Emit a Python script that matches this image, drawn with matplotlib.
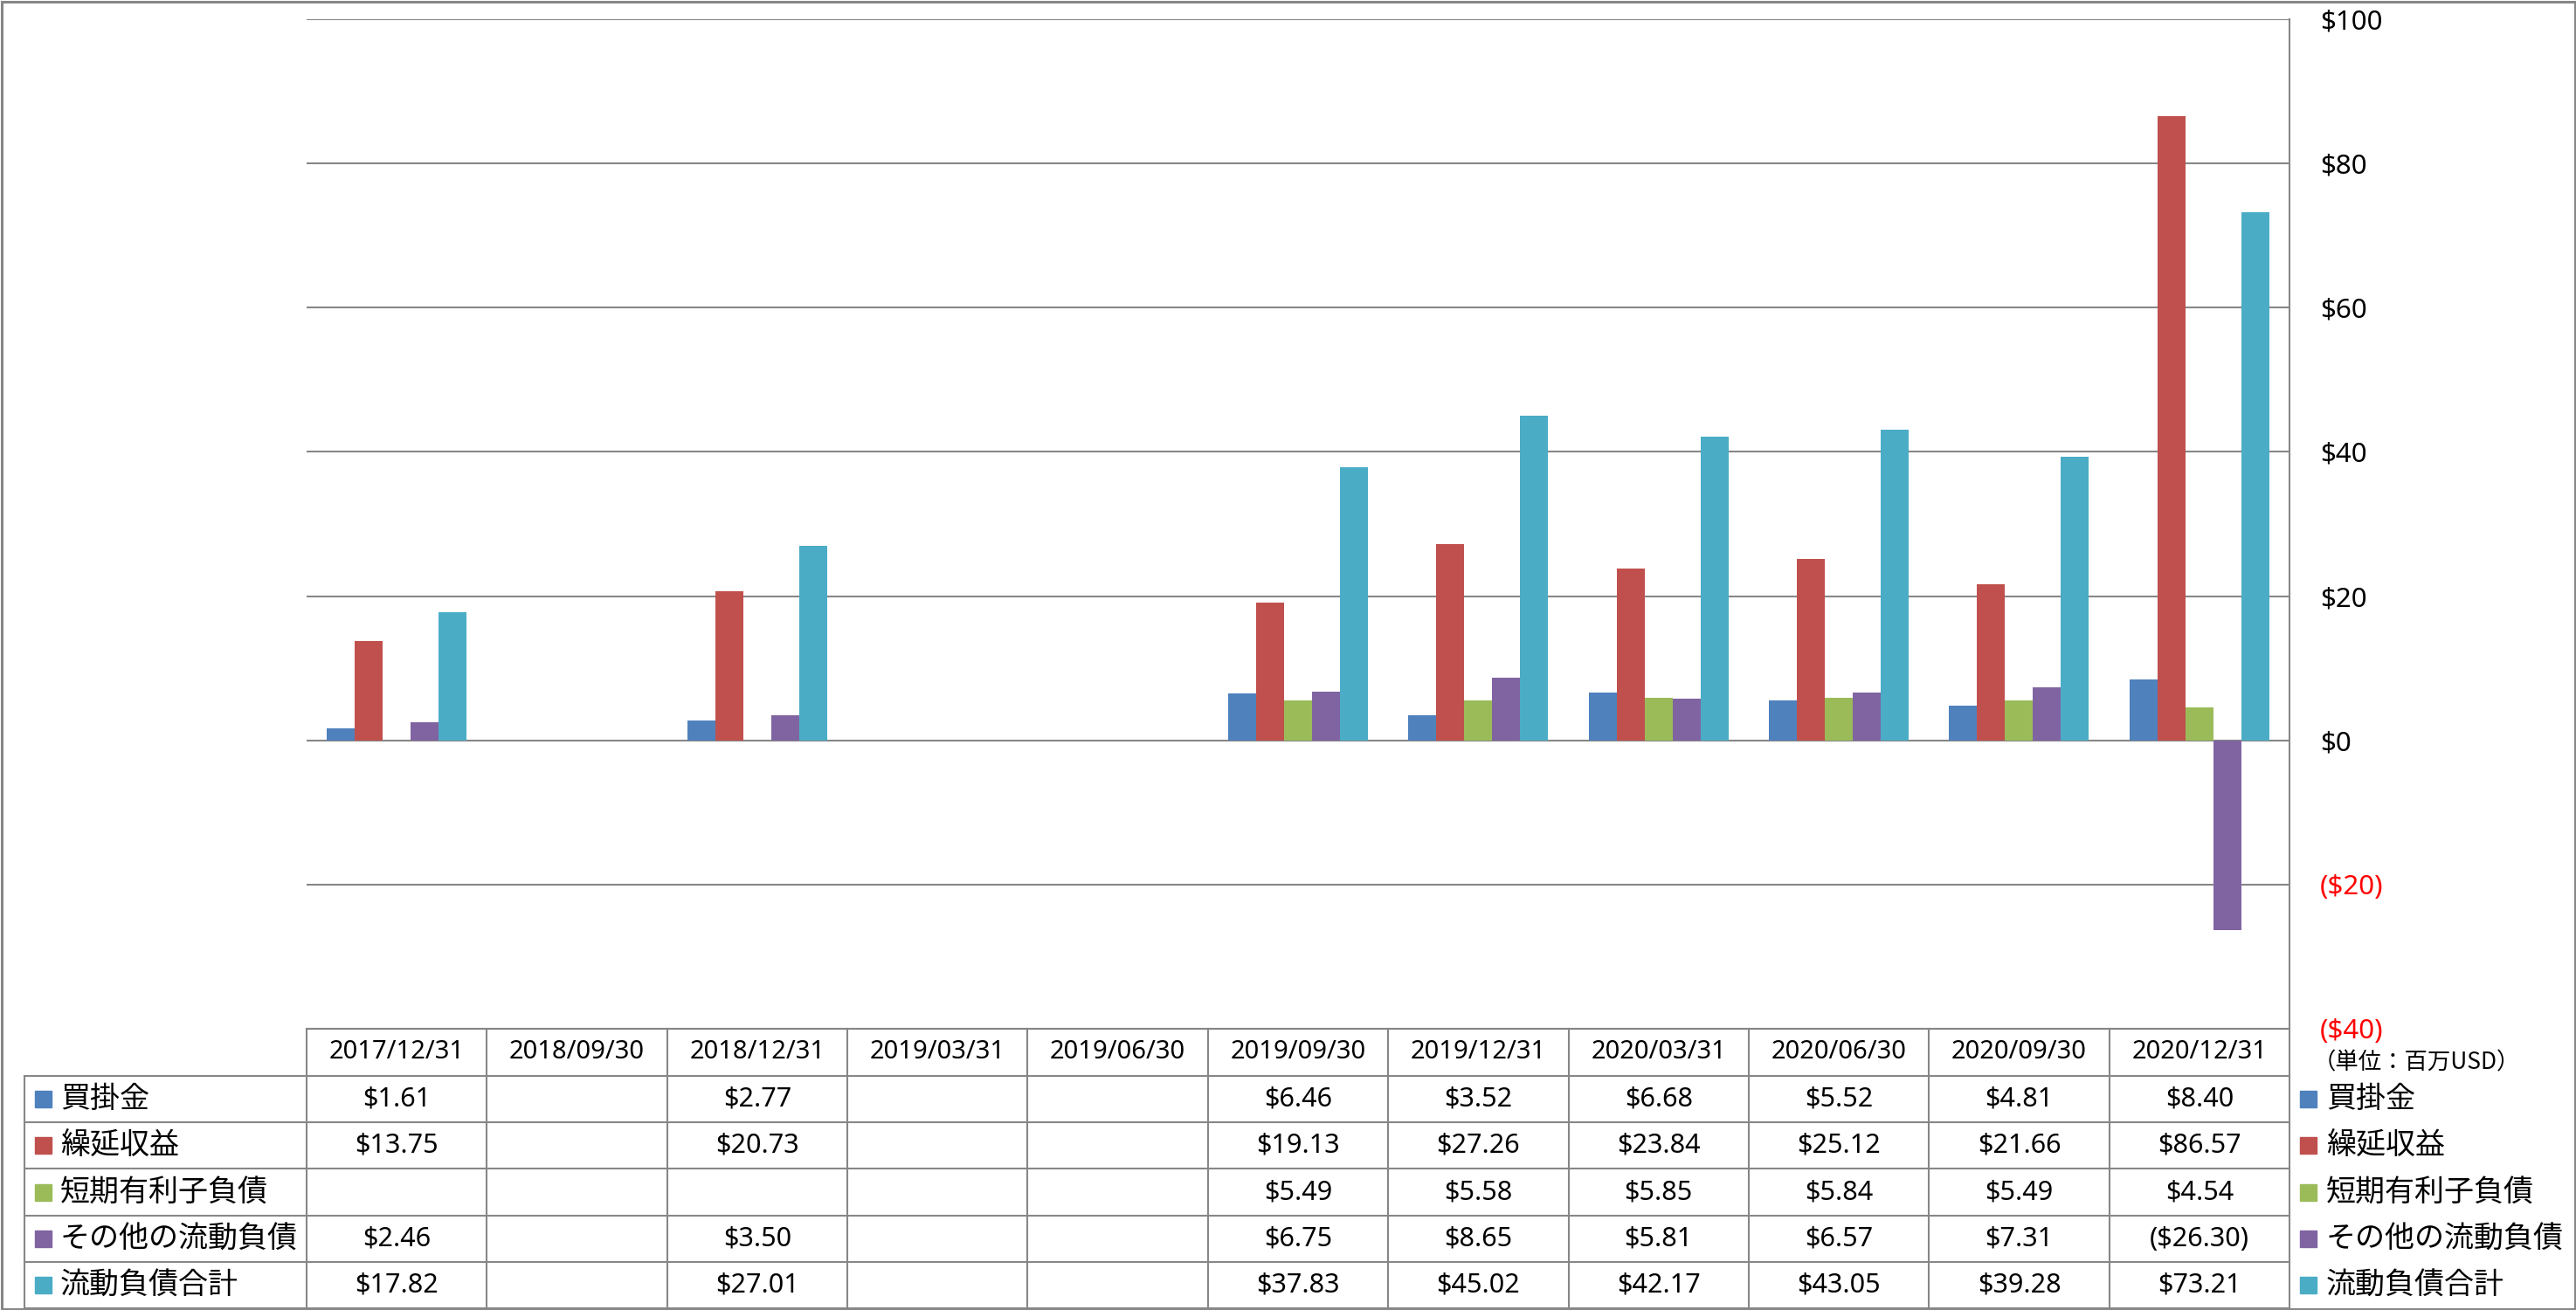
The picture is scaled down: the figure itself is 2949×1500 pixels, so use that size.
import matplotlib
matplotlib.use("Agg")
import matplotlib.pyplot as plt
from matplotlib.patches import Rectangle
from matplotlib.lines import Line2D

# ---------------- data ----------------
dates = ['2017/12/31', '2018/09/30', '2018/12/31', '2019/03/31', '2019/06/30',
         '2019/09/30', '2019/12/31', '2020/03/31', '2020/06/30', '2020/09/30', '2020/12/31']
series_names = ['買掛金', '繰延収益', '短期有利子負債', 'その他の流動負債', '流動負債合計']
accounts_payable = [1.61, None, 2.77, None, None, 6.46, 3.52, 6.68, 5.52, 4.81, 8.40]
deferred_revenue = [13.75, None, 20.73, None, None, 19.13, 27.26, 23.84, 25.12, 21.66, 86.57]
short_term_debt = [None, None, None, None, None, 5.49, 5.58, 5.85, 5.84, 5.49, 4.54]
other_current = [2.46, None, 3.50, None, None, 6.75, 8.65, 5.81, 6.57, 7.31, -26.30]
total_current = [17.82, None, 27.01, None, None, 37.83, 45.02, 42.17, 43.05, 39.28, 73.21]
yticks = [-40, -20, 0, 20, 40, 60, 80, 100]
unit_label = '（単位：百万USD）'

series = [accounts_payable, deferred_revenue, short_term_debt, other_current, total_current]
colors = ['#4F81BD', '#C0504D', '#9BBB59', '#8064A2', '#4BACC6']

W, H = 2949, 1500
DPI = 100
fig = plt.figure(figsize=(W / DPI, H / DPI), dpi=DPI)
fig.patch.set_facecolor('white')

NUM_FONT = ['Noto Sans', 'Noto Sans CJK JP', 'DejaVu Sans']
JP_FONT = ['Noto Sans CJK JP', 'DejaVu Sans']
GRID = '#878787'

# plot area in pixels
px_left, px_right, px_top, px_bottom = 351, 2621, 22, 1178
ax = fig.add_axes([px_left / W, (H - px_bottom) / H,
                   (px_right - px_left) / W, (px_bottom - px_top) / H])
n = len(dates)
bw = 0.155
for i, (vals, c) in enumerate(zip(series, colors)):
    xs = [k + (i - 2) * bw for k in range(n) if vals[k] is not None]
    ys = [v for v in vals if v is not None]
    ax.bar(xs, ys, width=bw, color=c, linewidth=0, zorder=3)

ax.set_xlim(-0.5, n - 0.5)
ax.set_ylim(yticks[0], yticks[-1])
ax.set_xticks([])
ax.yaxis.tick_right()
ax.set_yticks(yticks)


def money(v):
    return f'(${abs(v):,.0f})' if v < 0 else f'${v:,.0f}'


ax.set_yticklabels([money(v) for v in yticks])
for lab, v in zip(ax.get_yticklabels(), yticks):
    lab.set_fontfamily(NUM_FONT)
    lab.set_fontsize(22.5)
    lab.set_color('red' if v < 0 else 'black')
ax.tick_params(axis='y', length=0, pad=25)
for s in ['left', 'top', 'bottom']:
    ax.spines[s].set_visible(False)
ax.spines['right'].set_color(GRID)
ax.spines['right'].set_linewidth(1.5)
ax.yaxis.grid(True, color=GRID, linewidth=1.5, zorder=0)
ax.set_axisbelow(True)

# ---------------- overlay for table ----------------
ov = fig.add_axes([0, 0, 1, 1], zorder=5)
ov.set_xlim(0, W)
ov.set_ylim(H, 0)
ov.axis('off')
ov.patch.set_alpha(0)

cw = (px_right - px_left) / n
row_tops = [1178, 1232, 1285, 1338, 1392, 1445, 1498]
tab_left = 28
lw = 1.5

# horizontal lines
ov.add_line(Line2D([px_left, px_right], [row_tops[0]] * 2, color=GRID, lw=lw))
for y in row_tops[1:]:
    ov.add_line(Line2D([tab_left, px_right], [y, y], color=GRID, lw=lw))
# vertical lines
ov.add_line(Line2D([tab_left, tab_left], [row_tops[1], row_tops[-1]], color=GRID, lw=lw))
for k in range(n + 1):
    x = px_left + k * cw
    ov.add_line(Line2D([x, x], [row_tops[0], row_tops[-1]], color=GRID, lw=lw))

# header dates
hy = (row_tops[0] + row_tops[1]) / 2
for k, d in enumerate(dates):
    ov.text(px_left + (k + 0.5) * cw, hy, d, ha='center', va='center',
            fontsize=21, family=NUM_FONT)


def fmt(v):
    if v is None:
        return ''
    return f'(${abs(v):.2f})' if v < 0 else f'${v:.2f}'


for r, (name, vals, c) in enumerate(zip(series_names, series, colors)):
    yc = (row_tops[r + 1] + row_tops[r + 2]) / 2
    # left legend key
    ov.add_patch(Rectangle((40, yc - 9.5), 19, 19, color=c))
    ov.text(69, yc, name, ha='left', va='center', fontsize=24.5, family=JP_FONT)
    # right legend key
    ov.add_patch(Rectangle((2633, yc - 9.5), 19, 19, color=c))
    ov.text(2663, yc, name, ha='left', va='center', fontsize=24.5, family=JP_FONT)
    for k, v in enumerate(vals):
        if v is None:
            continue
        ov.text(px_left + (k + 0.5) * cw, yc, fmt(v), ha='center', va='center',
                fontsize=22, family=NUM_FONT)

ov.text(2648, 1217, unit_label, ha='left', va='center', fontsize=19, family=JP_FONT)

# outer border
ov.add_patch(Rectangle((1.5, 1.5), W - 3, H - 3, fill=False, edgecolor=GRID, lw=2.2))

fig.savefig('out.png', dpi=DPI, facecolor='white')
